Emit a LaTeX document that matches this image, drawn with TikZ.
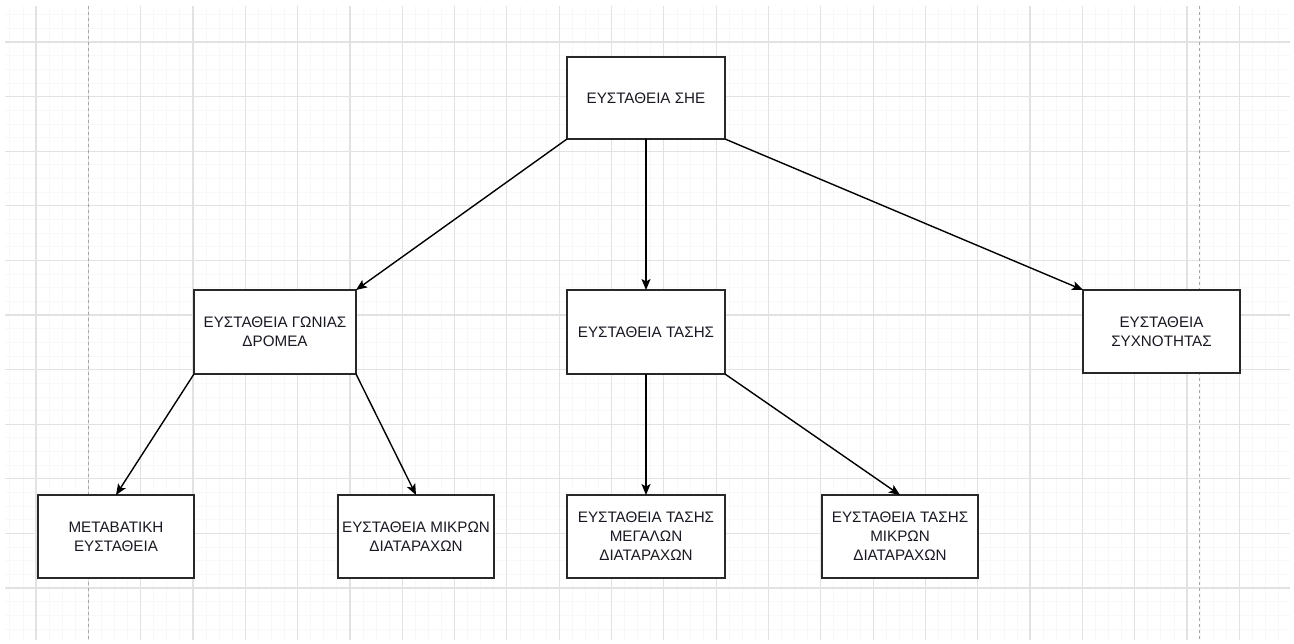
\documentclass[tikz,border=0pt]{standalone}
\usepackage{fontspec}
\setmainfont{Liberation Sans}
\usetikzlibrary{arrows.meta}
\definecolor{gridminor}{RGB}{248,248,248}
\definecolor{gridmajor}{RGB}{226,226,226}
\definecolor{pagebreak}{RGB}{165,165,165}
\definecolor{boxline}{RGB}{40,40,40}
\definecolor{txt}{RGB}{25,25,35}
\tikzset{
  stabbox/.style={draw=boxline, line width=1.7pt, fill=white, inner sep=0pt, outer sep=0pt,
    align=center, text=txt, font=\fontsize{15.2}{19}\selectfont},
  link/.style={draw=black, line width=1.4pt, -{Stealth[length=11pt,width=9pt,inset=2.5pt]}},
  minorline/.style={draw=gridminor, line width=0.8pt},
  majorline/.style={draw=gridmajor, line width=1.2pt},
  breakline/.style={draw=pagebreak, line width=0.9pt, dash pattern=on 3pt off 3pt}
}
\begin{document}
\begin{tikzpicture}[x=1pt,y=-1pt]
\useasboundingbox (0,0) rectangle (1294,643);
\fill[white] (0,0) rectangle (1294,643);

% background grid: fine lines, then the heavier ones every fourth step
\foreach \x in {9.84,22.92,...,1290} \draw[minorline] (\x,6) -- (\x,640);
\foreach \y in {14.7,28.35,...,640} \draw[minorline] (5,\y) -- (1290,\y);
\foreach \x in {36,88.32,...,1290} \draw[majorline] (\x,6) -- (\x,640);
\foreach \y in {42,96.6,...,640} \draw[majorline] (5,\y) -- (1290,\y);

% page borders
\draw[breakline] (88.3,6) -- (88.3,640);
\draw[breakline] (1199,6) -- (1199,640);

% boxes
\node[stabbox, minimum width=158pt, minimum height=82pt] (she) at (646,98) {ΕΥΣΤΑΘΕΙΑ ΣΗΕ};
\node[stabbox, minimum width=162pt, minimum height=84pt] (gonia) at (275,332) {ΕΥΣΤΑΘΕΙΑ ΓΩΝΙΑΣ\\ΔΡΟΜΕΑ};
\node[stabbox, minimum width=158pt, minimum height=84pt] (tasi) at (646,332) {ΕΥΣΤΑΘΕΙΑ ΤΑΣΗΣ};
\node[stabbox, minimum width=157pt, minimum height=83pt] (syxn) at (1161.5,331.5) {ΕΥΣΤΑΘΕΙΑ\\ΣΥΧΝΟΤΗΤΑΣ};
\node[stabbox, minimum width=156pt, minimum height=83pt] (metab) at (116,536.5) {ΜΕΤΑΒΑΤΙΚΗ\\ΕΥΣΤΑΘΕΙΑ};
\node[stabbox, minimum width=156pt, minimum height=83pt] (mikr) at (416,536.5) {ΕΥΣΤΑΘΕΙΑ ΜΙΚΡΩΝ\\ΔΙΑΤΑΡΑΧΩΝ};
\node[stabbox, minimum width=158pt, minimum height=83pt] (tmeg) at (646,536.5) {ΕΥΣΤΑΘΕΙΑ ΤΑΣΗΣ\\ΜΕΓΑΛΩΝ\\ΔΙΑΤΑΡΑΧΩΝ};
\node[stabbox, minimum width=156pt, minimum height=83pt] (tmik) at (900,536.5) {ΕΥΣΤΑΘΕΙΑ ΤΑΣΗΣ\\ΜΙΚΡΩΝ\\ΔΙΑΤΑΡΑΧΩΝ};

% connectors
\draw[link] (she.south west) -- (gonia.north east);
\draw[link] (she.south) -- (tasi.north);
\draw[link] (she.south east) -- (syxn.north west);
\draw[link] (gonia.south west) -- (metab.north);
\draw[link] (gonia.south east) -- (mikr.north);
\draw[link] (tasi.south) -- (tmeg.north);
\draw[link] (tasi.south east) -- (tmik.north);
\end{tikzpicture}
\end{document}
